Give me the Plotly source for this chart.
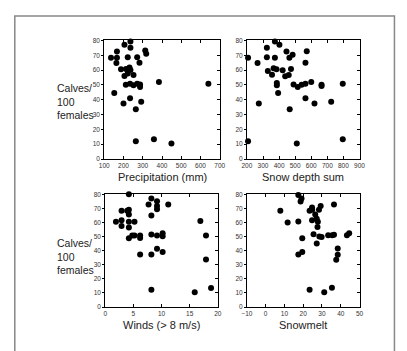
import plotly.graph_objects as go

W, H = 407, 351
OFF = 8  # page body margin offset

# ---- data ----
precip_x = [236, 205, 236, 166, 135, 166, 163, 222, 271, 283, 313, 318, 187, 213, 231, 236, 222, 205, 252,
            212, 234, 252, 271, 286, 286, 384, 641, 152, 234, 200, 292, 264, 264, 358, 449]
precip_y = [79.2, 77, 75, 72.5, 68.3, 68.3, 64.7, 68.6, 68.6, 65, 73.2, 71, 60.5, 60.7, 61.7, 60, 57.7, 56, 56.6,
            50.1, 50.8, 49.7, 50.8, 50.3, 48.5, 52, 50.8, 44.6, 41, 37.4, 38.6, 33.5, 12, 13.4, 10.4]

snow_x = [207, 374, 402, 324, 266, 324, 374, 446, 464, 484, 572, 564, 330, 366, 384, 356, 422, 438, 460, 474,
          386, 386, 394, 490, 516, 540, 564, 600, 664, 664, 796, 564, 274, 620, 724, 466, 207, 510, 796]
snow_y = [68.3, 79.2, 77, 75, 64.7, 68.6, 68.3, 72.5, 68.3, 70.4, 72.7, 65, 59.4, 61.2, 60.5, 56.8, 59.8, 55.9,
          56.6, 60.7, 51.3, 49.7, 44.6, 50.3, 48.5, 50.1, 50.8, 52, 50.1, 49.2, 50.8, 41, 37.4, 37.4, 38.6, 33.5,
          12, 10.4, 13.4]

wind_x = [4.2, 1.9, 2.9, 2.9, 2.9, 3.9, 4.2, 4.2, 4.2, 4.2, 5.2, 4.8, 4.2, 5.2, 6.2, 6.2, 6.2, 7.7, 8.2, 8.2,
          8.2, 8.2, 8.2, 9.2, 9.2, 9.2, 9.2, 9.2, 10.2, 10.2, 10.2, 11.2, 15.9, 16.9, 17.9, 17.9, 18.8]
wind_y = [80, 60.5, 61.5, 57.5, 68.4, 68.4, 69, 65.6, 60.5, 56.5, 60.5, 50.7, 48.8, 50.7, 50.7, 49, 37.2, 72.8,
          77, 65, 51.4, 37.2, 12.3, 75.1, 71.6, 69.3, 50.7, 41.4, 52.3, 50.2, 39, 72.8, 10.5, 61, 50.7, 33.7, 13.5]

melt_x = [17.4, 19.1, 18.6, 7.8, 11.7, 17.4, 19.5, 17.4, 19.5, 23.4, 24.7, 24.8, 29.3, 36.4, 28.4, 26.4, 27.2,
          24.7, 27.8, 27.6, 25.5, 28.6, 29.8, 27.2, 33.3, 35.5, 36.4, 43.3, 44.5, 38.4, 38.4, 37.6, 23.4, 31.2, 35.3]
melt_y = [79.5, 77, 74.9, 68.4, 60, 60.6, 48.8, 37.2, 39, 68.4, 70.7, 69, 71.6, 72.8, 69, 65.6, 62.6, 61.6, 60.5,
          56.7, 51.6, 50, 49.7, 45.1, 50.9, 50.9, 51.2, 50.9, 52.3, 41.6, 37, 33.5, 12.3, 10.5, 13.7]

x_titles = ["Precipitation (mm)", "Snow depth sum", "Winds (> 8 m/s)", "Snowmelt"]
x_ranges = [[100, 700], [200, 900], [0, 20], [-10, 50]]
x_dticks = [100, 100, 5, 10]
y_range = [0, 80]
y_title = "Calves/<br>100<br>females"

# ---- layout geometry (page pixels) ----
panels_px = [(101, 220, 37, 158), (248, 364, 37, 158), (102, 218, 194, 309), (248, 364, 194, 309)]


def px(x):
    return (x - OFF) / W


def py(y):
    return 1 - (y - OFF) / H


series = [(precip_x, precip_y), (snow_x, snow_y), (wind_x, wind_y), (melt_x, melt_y)]

fig = go.Figure()
layout = dict(width=W, height=H, margin=dict(l=0, r=0, t=0, b=0), showlegend=False,
              plot_bgcolor="white", paper_bgcolor="white",
              font=dict(family="Liberation Sans, Arial, sans-serif", color="#222"))

tickfont = dict(size=6.5, color="#333", family="Liberation Sans, Arial, sans-serif")
for i, ((xs, ys), (x0, x1, y0, y1)) in enumerate(zip(series, panels_px)):
    n = i + 1
    xa = "x" if n == 1 else f"x{n}"
    ya = "y" if n == 1 else f"y{n}"
    fig.add_trace(go.Scatter(x=xs, y=ys, mode="markers", xaxis=xa, yaxis=ya,
                             marker=dict(size=6, color="black"), cliponaxis=False))
    xd = [px(x0), px(x1)]
    yd = [py(y1), py(y0)]
    layout[f"xaxis{n if n > 1 else ''}"] = dict(
        domain=xd, anchor=ya, range=x_ranges[i], dtick=x_dticks[i], tick0=x_ranges[i][0],
        showgrid=False, zeroline=False, showline=True, linecolor="black", linewidth=1,
        mirror="ticks", ticks="inside", ticklen=3, tickcolor="black", tickfont=tickfont)
    layout[f"yaxis{n if n > 1 else ''}"] = dict(
        domain=yd, anchor=xa, range=y_range, dtick=10, tick0=0,
        showgrid=False, zeroline=False, showline=True, linecolor="black", linewidth=1,
        mirror=True, ticks="outside", ticklen=2, tickcolor="black", tickfont=tickfont)
    # right-side inward ticks
    m = n + 4
    layout[f"yaxis{m}"] = dict(
        overlaying=ya, side="right", anchor=xa, range=y_range, dtick=10, tick0=0,
        showgrid=False, zeroline=False, showline=False, ticks="inside", ticklen=3,
        tickcolor="black", showticklabels=False)
    fig.add_trace(go.Scatter(x=[None], y=[None], xaxis=xa, yaxis=f"y{m}", mode="markers",
                             hoverinfo="skip"))
    # x title
    fig.add_annotation(x=px((x0 + x1) / 2), y=py(y1 + 18), xref="paper", yref="paper",
                       text=x_titles[i], showarrow=False, xanchor="center", yanchor="middle",
                       font=dict(size=11, color="#222"))

for yc in (99, 257):
    fig.add_annotation(x=px(51), y=py(yc), xref="paper", yref="paper", text=y_title,
                       showarrow=False, xanchor="left", yanchor="middle", align="left",
                       borderpad=0, font=dict(size=10.5, color="#222"))

fig.add_shape(type="rect", xref="paper", yref="paper", x0=px(8) + 0.002, x1=px(400), y0=-0.05, y1=py(12),
              line=dict(color="#888", width=1.5))

fig.update_layout(**layout)
fig.write_html("out.html")
